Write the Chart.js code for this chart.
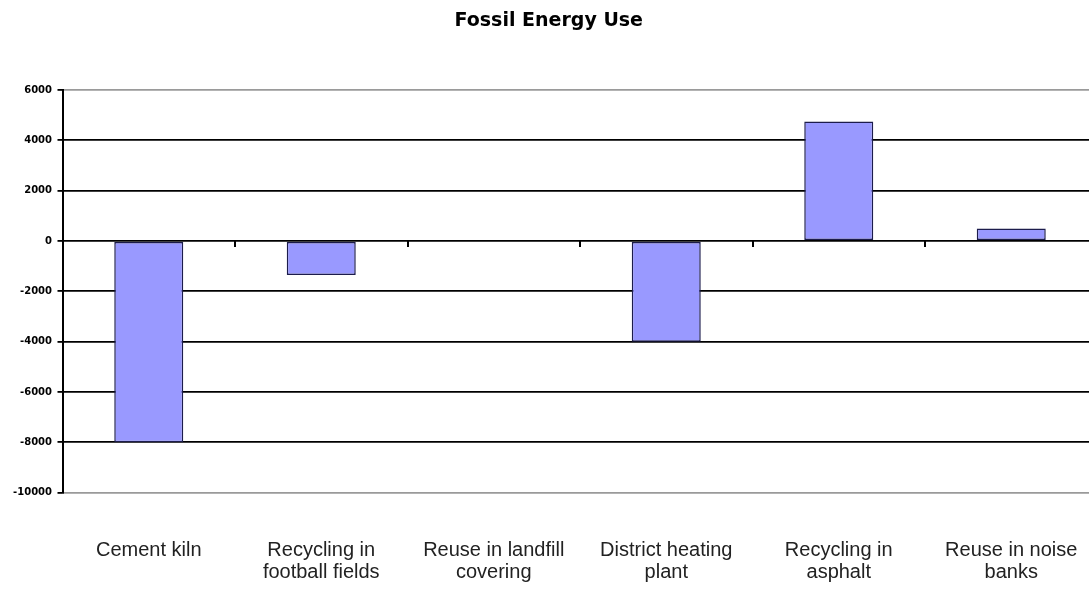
<!DOCTYPE html>
<html>
<head>
<meta charset="utf-8">
<title>Fossil Energy Use</title>
<script src="https://cdn.jsdelivr.net/npm/chart.js@4/dist/chart.umd.min.js"></script>
<style>
  html, body { margin: 0; padding: 0; background: #ffffff; overflow: hidden; }
  #wrap { position: absolute; left: 0; top: 0; width: 1110px; height: 592px; }
</style>
</head>
<body>
<div id="wrap"><canvas id="chart" width="1110" height="592"></canvas></div>
<script>
// Treatment options for the residue stream
const categories = [
  'Cement kiln',
  ['Recycling in', 'football fields'],
  ['Reuse in landfill', 'covering'],
  ['District heating', 'plant'],
  ['Recycling in', 'asphalt'],
  ['Reuse in noise', 'banks']
];

// Net fossil energy use per option
const fossilEnergy = [-8000, -1350, 0, -4000, 4750, 500];

// Value axis ticks (top to bottom)
const yTickValues = [6000, 4000, 2000, 0, -2000, -4000, -6000, -8000, -10000];
const yTickLabels = ['6000', '4000', '2000', '0', '-2000', '-4000', '-6000', '-8000', '-10000'];

const chartTitle = 'Fossil Energy Use';

new Chart(document.getElementById('chart'), {
  type: 'bar',
  data: {
    labels: categories,
    datasets: [{
      label: chartTitle,
      data: fossilEnergy,
      xAxisID: 'x',
      yAxisID: 'y',
      backgroundColor: '#9999ff',
      borderColor: '#1c1c4c',
      borderWidth: 1.5,
      borderSkipped: false,
      categoryPercentage: 1.0,
      barPercentage: 0.4
    }]
  },
  options: {
    responsive: false,
    animation: false,
    layout: { padding: { left: 0, right: 12.5, top: 0, bottom: 0 } },
    plugins: {
      legend: { display: false },
      tooltip: { enabled: false },
      title: {
        display: true,
        text: chartTitle,
        color: '#000000',
        font: { family: 'DejaVu Sans', size: 19, weight: 'bold', lineHeight: 1.2 },
        padding: { top: 10, bottom: 57.2 }
      }
    },
    scales: {
      x: {
        type: 'category',
        position: 'bottom',
        offset: true,
        grid: { display: false, drawTicks: false },
        border: { display: false },
        ticks: {
          color: '#222222',
          font: { family: 'Liberation Sans', size: 20, lineHeight: 1.1 },
          padding: 47,
          maxRotation: 0,
          autoSkip: false
        },
        afterFit: (scale) => {
          // labels sit well inside their categories; no side padding needed
          scale.height = 99.3;
          scale.paddingLeft = 0;
          scale.paddingRight = 0;
        }
      },
      xz: {
        type: 'category',
        position: { y: 0 },
        offset: true,
        grid: {
          offset: true,
          drawOnChartArea: false,
          drawTicks: true,
          tickLength: 6,
          color: '#000000',
          lineWidth: 2
        },
        border: { display: false },
        ticks: { display: false }
      },
      y: {
        type: 'linear',
        position: 'left',
        min: -10000,
        max: 6000,
        ticks: {
          stepSize: 2000,
          color: '#000000',
          padding: 5.5,
          font: { family: 'DejaVu Sans', size: 10, weight: 'bold' },
          callback: (value) => {
            const i = yTickValues.indexOf(value);
            return i >= 0 ? yTickLabels[i] : '';
          }
        },
        grid: {
          color: (ctx) => (ctx.tick && (ctx.tick.value === 6000 || ctx.tick.value === -10000)) ? '#9a9a9a' : '#000000',
          lineWidth: 1.8,
          drawTicks: true,
          tickLength: 5,
          tickColor: '#000000'
        },
        border: { display: true, color: '#000000', width: 2 },
        afterFit: (scale) => { scale.width = 62.5; }
      }
    }
  }
});
</script>
</body>
</html>
